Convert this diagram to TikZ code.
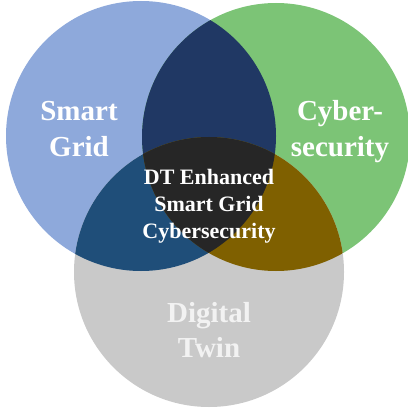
\documentclass[tikz,border=0pt]{standalone}
\usepackage{fontspec}
\setmainfont{Liberation Serif}
\definecolor{cblue}{HTML}{8EA9DB}
\definecolor{cgreen}{HTML}{7CC476}
\definecolor{cgray}{HTML}{C9C9C9}
\definecolor{bg}{HTML}{203864}
\definecolor{bgr}{HTML}{1F4E79}
\definecolor{ggr}{HTML}{7F6000}
\definecolor{ctr}{HTML}{262626}
\begin{document}
\begin{tikzpicture}[x=1pt,y=-1pt,
  big/.style={font=\fontsize{29}{35}\selectfont\bfseries, text=white, inner sep=0pt, anchor=base},
  small/.style={font=\fontsize{22}{27}\selectfont\bfseries, text=white, inner sep=0pt, anchor=base}]
\useasboundingbox (0,0) rectangle (407,414);
\def\cb{(141,136) circle[radius=135]}
\def\cg{(276,137) circle[radius=134]}
\def\cy{(209,272) circle[radius=135]}
\fill[cblue] \cb;
\fill[cgreen] \cg;
\fill[cgray] \cy;
\begin{scope}
  \clip \cb; \fill[bg] \cg;
\end{scope}
\begin{scope}
  \clip \cb; \fill[bgr] \cy;
\end{scope}
\begin{scope}
  \clip \cg; \fill[ggr] \cy;
\end{scope}
\begin{scope}
  \clip \cb; \clip \cg; \fill[ctr] \cy;
\end{scope}
\node[big] (sg1) at (79,121) {Smart};
\node[big] (sg2) at (79,157) {Grid};
\node[big] (cy1) at (340,121) {Cyber-};
\node[big] (cy2) at (340,157) {security};
\node[big, text=white!95!black] (dt1) at (209,322) {Digital};
\node[big, text=white!95!black] (dt2) at (209,357) {Twin};
\node[small] (c1) at (209,184) {DT Enhanced};
\node[small] (c2) at (209,211) {Smart Grid};
\node[small] (c3) at (209,238) {Cybersecurity};
\end{tikzpicture}
\end{document}
